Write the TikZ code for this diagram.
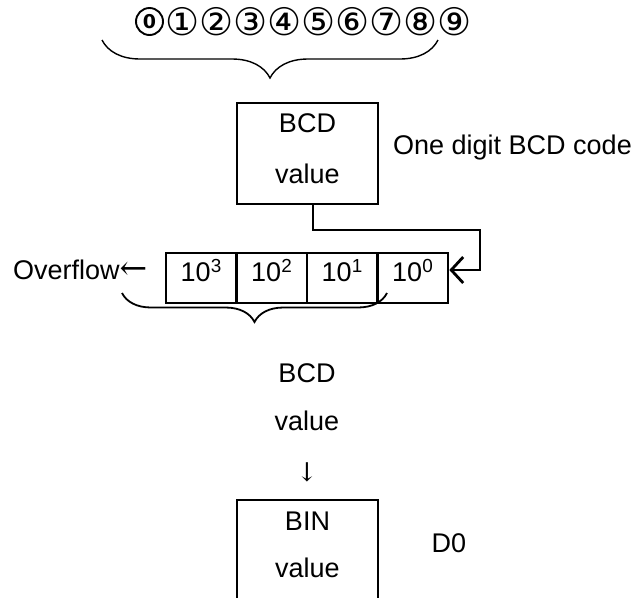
\documentclass[tikz,border=0pt]{standalone}
\usepackage{fontspec}
\setmainfont{Liberation Sans}
\newfontfamily\circfont{DejaVu Sans}
\newfontfamily\arrfont{DejaVu Serif}
\usetikzlibrary{arrows.meta,decorations.pathreplacing}
\begin{document}
\begin{tikzpicture}[x=1pt,y=-1pt,font=\fontsize{27}{32}\selectfont]
      \tikzset{valbox/.style={draw, line width=2.6pt, minimum width=141pt, minimum height=101pt, inner sep=0pt},
        cell/.style={draw, line width=2.6pt, minimum width=70.5pt, minimum height=50pt, inner sep=0pt},
        txt/.style={inner sep=0pt},
        curly/.style={decorate, line width=1.4pt, decoration={brace, mirror, amplitude=#1}},
        flow/.style={line width=2.8pt, -{Straight Barb[length=12pt,width=26pt]}}}
      \clip (0,0) rectangle (641,598);
      % digits and the upper brace
      \node[draw, circle, line width=1.9pt, minimum size=27pt, inner sep=0pt,
        font=\circfont\bfseries\fontsize{19}{20}\selectfont] (zero) at (149.5,21.5) {0};
      \node[txt, anchor=west, font=\circfont\fontsize{38}{40}\selectfont] (digits) at (165,22) {①②③④⑤⑥⑦⑧⑨};
      \coordinate (ul) at (102,40);
      \coordinate (ur) at (438,40);
      \draw[curly=38pt] (ul) -- (ur);
      % one digit box
      \node[valbox] (bcdbox) at (307.5,153.5) {};
      \node[txt] (bcdtop) at (307.5,123) {BCD};
      \node[txt] (bcdbot) at (307.5,174) {value};
      \node[txt, anchor=west] (onedigit) at (393,148) {One digit BCD code};
      % shift register
      \node[cell] (c3) at (201.25,278) {};
      \node[cell] (c2) at (271.75,278) {};
      \node[cell] (c1) at (342.25,278) {};
      \node[cell] (c0) at (412.75,278) {};
      \node[txt] (e3) at (201.25,271) {10\textsuperscript{3}};
      \node[txt] (e2) at (271.75,271) {10\textsuperscript{2}};
      \node[txt] (e1) at (342.25,271) {10\textsuperscript{1}};
      \node[txt] (e0) at (412.75,271) {10\textsuperscript{0}};
      \node[txt, anchor=west] (overflow) at (13,270) {Overflow{\arrfont\fontsize{33}{36}\selectfont ←}};
      \coordinate (turn) at (480,230);
      \draw[flow] ([xshift=5.5pt]bcdbox.south) |- (turn) |- ([yshift=8pt]c0.east);
      % lower brace
      \coordinate (ll) at (122,293);
      \coordinate (lr) at (387,293);
      \draw[curly=29pt, line width=1.8pt] (ll) -- (lr);
      % conversion result
      \node[txt] (bcdlow) at (307,373) {BCD};
      \node[txt] (vallow) at (307,421) {value};
      \node[txt, font=\arrfont\fontsize{26}{30}\selectfont] (down) at (307,472) {↓};
      \node[valbox] (binbox) at (307.5,550.5) {};
      \node[txt] (bintop) at (307.5,521) {BIN};
      \node[txt] (binbot) at (307.5,568) {value};
      \node[txt] (dzero) at (449,543) {D0};
    \end{tikzpicture}
\end{document}
